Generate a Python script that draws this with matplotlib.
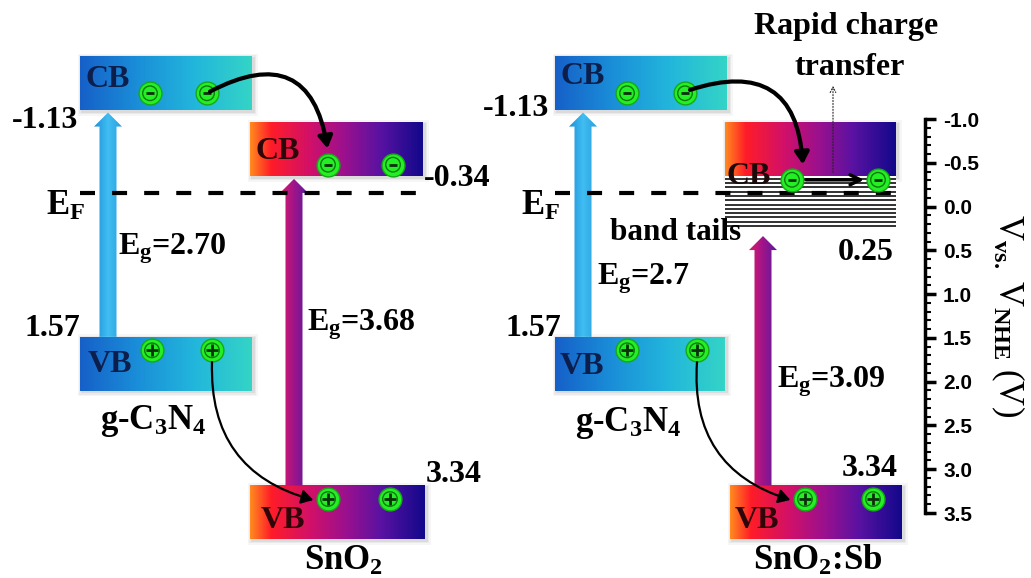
import numpy as np
import matplotlib.pyplot as plt
from matplotlib.colors import LinearSegmentedColormap
from matplotlib.patches import Rectangle, Polygon, FancyArrowPatch
from matplotlib.ticker import MultipleLocator

plt.rcParams['font.family'] = 'Liberation Serif'
plt.rcParams['font.weight'] = 'bold'
plt.rcParams['mathtext.fontset'] = 'custom'
plt.rcParams['mathtext.rm'] = 'Liberation Serif:bold'
plt.rcParams['mathtext.it'] = 'Liberation Serif:bold'
plt.rcParams['mathtext.bf'] = 'Liberation Serif:bold'
plt.rcParams['axes.unicode_minus'] = False

# band edges (V vs. NHE)
gcn_cb = -1.13
gcn_vb = 1.57
sno2_cb = -0.34
sno2_vb = 3.34
sb_cb = -0.34
sb_tail = 0.25
sb_vb = 3.34
e_fermi = -0.14

gcn_labels = ['-1.13', '1.57']
sno2_labels = ['-0.34', '3.34']
sb_labels = ['0.25', '3.34']
eg_text = ['2.70', '3.68', '2.7', '3.09']

scale_ticks = [-1.0, -0.5, 0.0, 0.5, 1.0, 1.5, 2.0, 2.5, 3.0, 3.5]

# colours
gcn_cmap = LinearSegmentedColormap.from_list('gcn', ['#1660c8', '#1a8ed8', '#22b6dc', '#34d4c6'])
sno2_cmap = LinearSegmentedColormap.from_list('sno2', [
    (0.0, '#ff8a20'), (0.12, '#ff1c28'), (0.35, '#d0106a'), (0.55, '#9a108e'),
    (0.75, '#5a12a2'), (1.0, '#12088a')])
blue_arrow = ['#1e8ed8', '#40bef2', '#2a9ede']
purple_arrow = ['#d81a6a', '#a0148a', '#5a1c9c']

fig = plt.figure(figsize=(10.31, 5.78), dpi=100)
ax = fig.add_axes([0, 0, 1, 1])
ax.set_xlim(0, 1031)
ax.set_ylim(4.44, -2.44)
ax.set_autoscale_on(False)
ax.axis('off')
PX = (4.44 + 2.44) / 578     # one pixel in volts
TH = 0.64                    # band thickness
grad = np.linspace(0, 1, 256).reshape(1, -1)


def band(x0, x1, top, bot, cmap):
    for e, a in [(4, 0.05), (2.5, 0.07), (1, 0.10)]:
        ax.add_patch(Rectangle((x0 - e + 1.5, top - (e - 1.5) * PX), x1 - x0 + 2 * e,
                               bot - top + 2 * e * PX, fc='0.35', ec='none', alpha=a, zorder=1))
    ax.imshow(grad, cmap=cmap, extent=(x0, x1, bot, top), aspect='auto',
              interpolation='bicubic', zorder=2)


def up_arrow(x, tail, tip, colors):
    hw, hh, hl = 8.5, 14, 14 * PX
    verts = [(x - hw, tail), (x - hw, tip + hl), (x - hh, tip + hl), (x, tip),
             (x + hh, tip + hl), (x + hw, tip + hl), (x + hw, tail)]
    poly = Polygon(verts, closed=True, fc='none', ec='none')
    ax.add_patch(poly)
    cm = LinearSegmentedColormap.from_list('arr', colors)
    im = ax.imshow(grad, cmap=cm, extent=(x - hh, x + hh, tail, tip), aspect='auto', zorder=3)
    im.set_clip_path(poly)


def carriers(xs, y, sign):
    ys = [y] * len(xs)
    ax.scatter(xs, ys, s=270, c='#24ee24', edgecolors='#17a817', linewidths=1, zorder=6)
    ax.scatter(xs, ys, s=110, facecolors='none', edgecolors='#0f7a10', linewidths=1, zorder=6)
    ax.scatter(xs, ys, s=70 if sign == '+' else 40, marker='+' if sign == '+' else '_',
               c='#0b300b', linewidths=2, zorder=7)


def curve(a, b, rad, lw):
    ax.add_patch(FancyArrowPatch(a, b, connectionstyle=f'arc3,rad={rad}',
                                 arrowstyle='-|>,head_length=0.5,head_width=0.3',
                                 mutation_scale=14, lw=lw, color='black',
                                 shrinkA=0, shrinkB=2, zorder=9))


def label(x, y, s, size=23, **kw):
    ax.text(x, y, s, ha=kw.pop('ha', 'center'), va='center', fontsize=size, zorder=10, **kw)


# ---- left: g-C3N4 / SnO2 ----
band(80, 252, gcn_cb - TH, gcn_cb, gcn_cmap)
band(80, 252, gcn_vb, gcn_vb + TH, gcn_cmap)
band(250, 423, sno2_cb - TH, sno2_cb, sno2_cmap)
band(250, 425, sno2_vb, sno2_vb + TH, sno2_cmap)
up_arrow(108, gcn_vb, gcn_cb + 0.03, blue_arrow)
up_arrow(294, sno2_vb, sno2_cb + 0.03, purple_arrow)
ax.hlines(e_fermi, 80, 423, colors='black', lw=3, linestyles=(0, (3.6, 4.1)), zorder=5)

carriers([150, 207], gcn_cb - 0.2, '-')
carriers([328, 393], sno2_cb - 0.14, '-')
carriers([152, 212], gcn_vb + 0.16, '+')
carriers([328, 390], sno2_vb + 0.16, '+')
curve((210, gcn_cb - 0.22), (328, sno2_cb - 0.3), -0.7, 3)
curve((212, gcn_vb + 0.3), (316, sno2_vb + 0.18), 0.4, 1.6)

label(108, gcn_cb - 0.36, 'CB', color='#0c1f4c')
label(110, gcn_vb + 0.33, 'VB', color='#0c1f4c')
label(278, sno2_cb - 0.3, 'CB', color='#2e0508')
label(283, sno2_vb + 0.42, 'VB', color='#2e0508')
label(45, gcn_cb + 0.13, gcn_labels[0])
label(52, gcn_vb - 0.1, gcn_labels[1])
label(457, sno2_cb + 0.03, sno2_labels[0])
label(454, sno2_vb - 0.13, sno2_labels[1])
label(66, e_fermi + 0.16, 'E$_\\mathrm{F}$', size=25)
label(118, 0.52, 'E$_\\mathrm{g}$=' + eg_text[0], ha='left')
label(307, 1.43, 'E$_\\mathrm{g}$=' + eg_text[1], ha='left')
label(153, gcn_vb + TH + 0.36, 'g-C$_3$N$_4$', size=25)
label(344, sno2_vb + TH + 0.26, 'SnO$_2$', size=25)

# ---- right: g-C3N4 / SnO2:Sb ----
dx = 475
band(80 + dx, 252 + dx, gcn_cb - TH, gcn_cb, gcn_cmap)
band(80 + dx, 250 + dx, gcn_vb, gcn_vb + TH, gcn_cmap)
band(725, 896, sb_cb - TH, sb_cb, sno2_cmap)
band(730, 902, sb_vb, sb_vb + TH, sno2_cmap)
# band tails below the conduction band
ax.add_patch(Rectangle((725, sb_cb), 171, sb_tail - sb_cb, fc='white', ec='none', zorder=3))
ax.hlines(np.linspace(sb_cb + 0.03, sb_tail, 12), 725, 896, colors='#222222', lw=1.3, zorder=4)
up_arrow(108 + dx, gcn_vb, gcn_cb + 0.03, blue_arrow)
up_arrow(763, sb_vb, sb_tail + 0.12, purple_arrow)
ax.hlines(e_fermi, 555, 893, colors='black', lw=3, linestyles=(0, (3.6, 4.1)), zorder=5)

carriers([627, 685], gcn_cb - 0.2, '-')
carriers([792, 878], -0.3, '-')
carriers([627, 697], gcn_vb + 0.16, '+')
carriers([805, 873], sb_vb + 0.16, '+')
curve((690, gcn_cb - 0.24), (803, -0.45), -0.65, 3)
curve((697, gcn_vb + 0.3), (793, sb_vb + 0.18), 0.4, 1.6)
ax.annotate('', xy=(864, -0.3), xytext=(806, -0.3),
            arrowprops=dict(arrowstyle='->', lw=2.5, color='black', mutation_scale=18,
                            shrinkA=0, shrinkB=0), zorder=9)
ax.annotate('', xy=(833, -1.42), xytext=(833, -0.39),
            arrowprops=dict(arrowstyle='->', lw=0.8, ls=':', color='#222222',
                            shrinkA=0, shrinkB=0), zorder=9)

label(583, gcn_cb - 0.4, 'CB', color='#0c1f4c')
label(582, gcn_vb + 0.35, 'VB', color='#0c1f4c')
label(749, sb_cb + 0.0, 'CB', color='#1a0a0a')
label(757, sb_vb + 0.42, 'VB', color='#2e0508')
label(516, gcn_cb - 0.02, gcn_labels[0])
label(533, gcn_vb - 0.1, gcn_labels[1])
label(866, sb_tail + 0.31, sb_labels[0])
label(870, sb_vb - 0.2, sb_labels[1])
label(541, e_fermi + 0.16, 'E$_\\mathrm{F}$', size=25)
label(676, sb_tail + 0.08, 'band tails', size=22.5)
label(597, 0.88, 'E$_\\mathrm{g}$=' + eg_text[2], ha='left')
label(777, 2.10, 'E$_\\mathrm{g}$=' + eg_text[3], ha='left')
label(628, gcn_vb + TH + 0.38, 'g-C$_3$N$_4$', size=25)
label(818, sb_vb + TH + 0.26, 'SnO$_2$:Sb', size=25)
label(846, -2.13, 'Rapid charge', size=23)
label(850, -1.64, 'transfer', size=23)

# ---- potential scale ----
axr = fig.add_axes([855 / 1031, 1 - 513 / 578, 70 / 1031, (513 - 119) / 578])
axr.set_ylim(3.5, -1.0)
axr.patch.set_visible(False)
for s in ['left', 'top', 'bottom']:
    axr.spines[s].set_visible(False)
axr.spines['right'].set_linewidth(2.5)
axr.set_xticks([])
axr.yaxis.tick_right()
axr.set_yticks(scale_ticks)
axr.yaxis.set_minor_locator(MultipleLocator(0.1))
axr.tick_params(axis='y', which='major', direction='out', length=8, width=2.5,
                labelsize=15, pad=5)
axr.tick_params(axis='y', which='minor', direction='out', length=4, width=1.5)
for t in axr.get_yticklabels():
    t.set_fontfamily('Liberation Sans')
    t.set_fontweight('bold')
axr.yaxis.set_label_position('right')
axr.set_ylabel('V$_\\mathrm{vs.}$ V$_\\mathrm{NHE}$ (V)', rotation=270, fontsize=25,
               labelpad=34)

fig.savefig('out.png', dpi=100, facecolor='white')
